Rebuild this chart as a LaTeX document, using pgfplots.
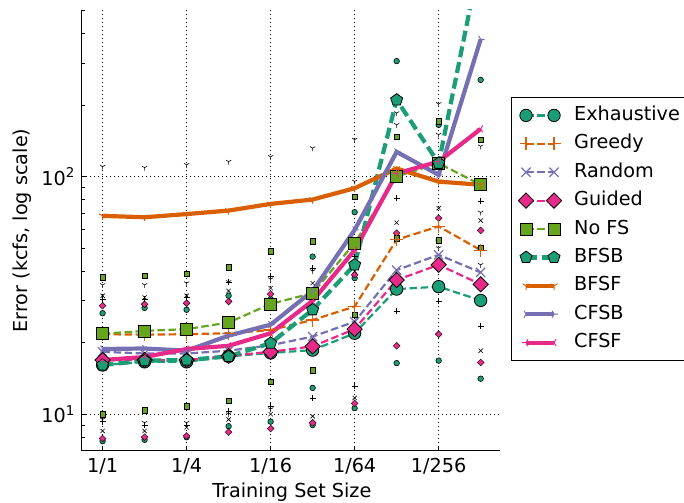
\documentclass[border=0pt]{standalone}
\usepackage{fontspec}
\setmainfont{DejaVu Sans}
\usepackage{pgfplots}
\pgfplotsset{compat=1.18}

\definecolor{dteal}{HTML}{1B9E77}
\definecolor{dorange}{HTML}{D95F02}
\definecolor{dpurple}{HTML}{7570B3}
\definecolor{dpink}{HTML}{E7298A}
\definecolor{dgreen}{HTML}{66A61E}

\pgfplotsset{
  twomarks/.style={legend image code/.code={%
    \draw[mark repeat=2,mark phase=1,##1] plot coordinates {(0bp,0bp) (14bp,0bp) (28bp,0bp)};
    \path (46bp,0bp);}},
  thin dashed/.style={line width=2.2bp, dash pattern=on 7.5bp off 3.5bp},
  thick line/.style={line width=4.2bp},
  small/.style={only marks, forget plot, mark size=2.8bp,
    mark options={solid, draw=black, line width=0.6bp}},
}

\begin{document}
\begin{tikzpicture}[font=\fontsize{19.3}{23}\selectfont]
\begin{axis}[
  scale only axis, width=418bp, height=441bp,
  at={(0,0)}, anchor=south west,
  ymode=log,
  xmin=-0.49, xmax=9.46, ymin=7.0, ymax=502,
  axis x line*=bottom, axis y line*=left,
  axis line style={black, line width=1bp},
  xtick={0,2,4,6,8},
  xticklabels={1/1,1/4,1/16,1/64,1/256},
  ytick={10,100},
  yticklabels={{10\textsuperscript{1}},{10\textsuperscript{2}}},
  minor ytick={8,9,20,30,40,50,60,70,80,90,200,300,400,500},
  tick align=inside,
  major tick length=4.5bp, minor tick length=2.8bp,
  tick style={black, line width=0.8bp},
  xticklabel style={anchor=base, yshift=-21.5bp},
  yticklabel style={anchor=east, xshift=-3.5bp},
  xmajorgrids, ymajorgrids,
  major grid style={black, line width=0.9bp, dash pattern=on 1bp off 3bp},
  xlabel={Training Set Size},
  ylabel={Error (kcfs, log scale)},
  xlabel style={at={(axis description cs:0.502,-0.1054)}, anchor=base},
  ylabel style={at={(axis description cs:-0.1435,0.5)}, anchor=center},
  legend style={at={(rel axis cs:1.0263,0.8027)}, anchor=north west,
    draw=black, line width=0.8bp, inner xsep=7bp, inner ysep=9bp,
    row sep=10.4bp, font=\fontsize{19.3}{23}\selectfont,
    nodes={inner xsep=0bp, inner ysep=0bp, text height=14bp, text depth=4bp}},
  legend cell align=left,
  twomarks,
]

% percentile markers drawn underneath the median lines
\addplot[small, mark=*, fill=dteal] coordinates {
  (0,26.6) (0,7.7) (1,28.0) (1,7.8) (2,27.5) (2,8.0) (3,31.5) (3,8.9)
  (4,30.5) (4,9.3) (5,46) (5,12.9) (5,9.0) (6,70.8) (6,37.4) (6,10.6)
  (7,306) (7,16.4) (8,165) (8,54) (8,16.8) (9,255) (9,50) (9,14.1)};
\addplot[small, mark=square*, fill=dpink, mark size=2.4bp,
  mark options={rotate=45}] coordinates {
  (0,28.6) (0,7.9) (1,29.0) (1,8.0) (2,29.3) (2,8.1) (3,29.8) (3,8.4)
  (4,32) (4,8.7) (5,9.2) (6,38.6) (6,11.1) (7,57.8) (7,19.4)
  (8,66.8) (8,21.7) (9,59.3) (9,16.5)};
\addplot[small, mark=square*, fill=dgreen, mark size=2.7bp] coordinates {
  (0,37.7) (0,10.0) (1,38.3) (1,10.4) (2,39.0) (2,10.8) (3,41.5) (3,11.4)
  (4,48.4) (4,13.7) (5,53.3) (5,15.3) (6,82) (6,26.2) (7,147) (7,55)
  (8,171) (8,54) (9,142.5) (9,50)};
\addplot[small, mark=+, mark size=3bp] coordinates {
  (0,30.5) (0,9.3) (1,30.5) (1,9.0) (2,31) (2,9.0) (3,36) (3,10.3)
  (4,38) (4,10.8) (5,41.2) (5,11.7) (6,46) (6,13.1) (7,81) (7,27.2)
  (8,29.8) (9,79) (9,23.5)};
\addplot[small, mark=x, mark size=3bp] coordinates {
  (0,31.5) (0,8.5) (1,31) (1,8.5) (2,31.5) (2,8.8) (3,33) (3,9.5)
  (4,33.9) (4,10.0) (5,35.6) (5,9.8) (6,40) (6,11.7) (7,64)
  (8,73.6) (9,65.3) (9,18.5)};
\addplot[small, mark=Mercedes star flipped, mark size=3bp] coordinates {
  (0,110) (0,35) (0,9.5) (1,109) (1,35) (1,9.2) (2,112) (2,35.6) (2,9.2)
  (3,115.5) (3,36) (3,10.0) (4,121) (4,37) (4,10.5) (5,131.6) (5,40)
  (6,143) (6,95.3) (7,185) (7,165) (8,202) (8,150) (8,50)
  (9,134) (9,70.6) (9,42.5)};

% median error of each method
\addplot[dteal, thin dashed, mark=*, mark size=6.2bp,
  mark options={solid, fill=dteal, draw=black, line width=0.8bp}] coordinates {
  (0,16.1) (1,16.6) (2,16.6) (3,17.5) (4,18.1) (5,18.6) (6,21.9) (7,33.6) (8,34.4) (9,30.1)};
\addlegendentry{Exhaustive}
\addplot[dorange, thin dashed, mark=+, mark size=6.5bp,
  mark options={solid, line width=1.2bp}] coordinates {
  (0,21.7) (1,21.6) (2,21.7) (3,21.9) (4,22.6) (5,24.9) (6,28.4) (7,54.2) (8,61.7) (9,49)};
\addlegendentry{Greedy}
\addplot[dpurple, thin dashed, mark=x, mark size=6.5bp,
  mark options={solid, line width=1.2bp}] coordinates {
  (0,18.3) (1,18.0) (2,18.0) (3,18.5) (4,19.5) (5,21.2) (6,24.5) (7,40.4) (8,46.8) (9,39.5)};
\addlegendentry{Random}
\addplot[dpink, thin dashed, mark=square*, mark size=5.4bp,
  mark options={solid, rotate=45, fill=dpink, draw=black, line width=0.8bp}] coordinates {
  (0,16.9) (1,16.9) (2,16.9) (3,17.6) (4,18.3) (5,19.3) (6,22.8) (7,36.7) (8,42.5) (9,35.2)};
\addlegendentry{Guided}
\addplot[dgreen, thin dashed, mark=square*, mark size=6bp,
  mark options={solid, fill=dgreen, draw=black, line width=0.8bp}] coordinates {
  (0,21.8) (1,22.4) (2,22.8) (3,24.3) (4,29.1) (5,32.3) (6,52.5) (7,100) (8,113.7) (9,92.3)};
\addlegendentry{No FS}
\addplot[dteal, line width=4.2bp, dash pattern=on 11bp off 5bp,
  mark=pentagon*, mark size=6.3bp,
  mark options={solid, fill=dteal, draw=black, line width=0.8bp}] coordinates {
  (0,16.1) (1,16.8) (2,16.9) (3,17.5) (4,19.9) (5,27.5) (6,42.5) (7,210) (8,113.7) (9,850)};
\addlegendentry{BFSB}
\addplot[dorange, thick line, mark=Mercedes star flipped, mark size=4bp,
  mark options={solid, line width=1bp}] coordinates {
  (0,68.3) (1,67.4) (2,69.5) (3,71.9) (4,76.7) (5,80) (6,89.3) (7,108) (8,95.2) (9,92.3)};
\addlegendentry{BFSF}
\addplot[dpurple, thick line, mark=Mercedes star, mark size=4bp,
  mark options={solid, line width=1bp, rotate=-90}] coordinates {
  (0,18.8) (1,18.9) (2,18.5) (3,21.4) (4,23.8) (5,33) (6,59.6) (7,127) (8,101.6) (9,378)};
\addlegendentry{CFSB}
\addplot[dpink, thick line, mark=Mercedes star, mark size=4bp,
  mark options={solid, line width=1bp, rotate=90}] coordinates {
  (0,16.9) (1,17.4) (2,18.8) (3,19.4) (4,21.9) (5,30) (6,49) (7,103) (8,115.6) (9,158.6)};
\addlegendentry{CFSF}
\end{axis}
\pgfresetboundingbox
\path (-82bp,-52bp) rectangle (602bp,451bp);
\end{tikzpicture}
\end{document}
